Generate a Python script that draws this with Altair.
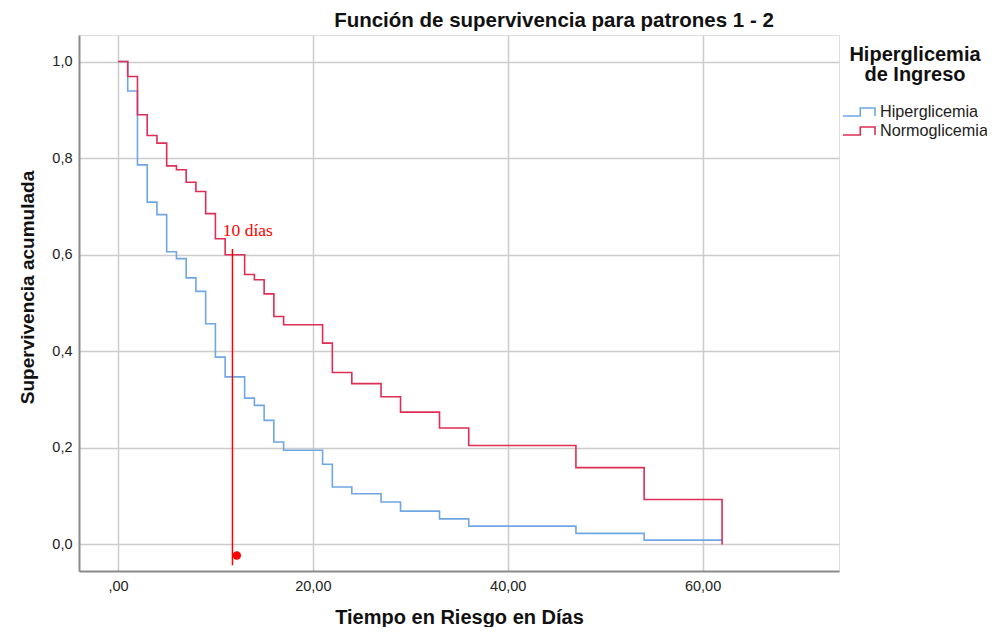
import altair as alt
import pandas as pd

# ---- data ----
dias = [0, 1, 2, 3, 4, 5, 6, 7, 8, 9, 10, 11, 13, 14, 15, 16, 17, 21, 22, 24, 27, 29, 33, 36, 47, 54, 62]
hiperglicemia = [1.0, 0.939, 0.786, 0.709, 0.683, 0.606, 0.592, 0.552, 0.524, 0.457, 0.388, 0.347,
                 0.303, 0.288, 0.257, 0.212, 0.195, 0.166, 0.119, 0.105, 0.088, 0.069, 0.053, 0.038,
                 0.023, 0.009, 0.009]
normoglicemia = [1.0, 0.969, 0.890, 0.847, 0.831, 0.784, 0.776, 0.750, 0.731, 0.685, 0.633, 0.600,
                 0.559, 0.548, 0.519, 0.472, 0.455, 0.417, 0.356, 0.333, 0.306, 0.274, 0.241, 0.205,
                 0.159, 0.093, 0.0]
grupos = ["Hiperglicemia", "Normoglicemia"]
colores = ["#6fa6e4", "#dd2e55"]

# annotation ("10 días")
marca_x = [11.75]
marca_y_sup = [0.612]
marca_y_inf = [-0.043]
punto_x = [12.2]
punto_y = [-0.023]
texto_x = [10.76]
texto_y = [0.638]
texto = ["10 días"]

x_ticks = [0, 20, 40, 60]
y_ticks = [0.0, 0.2, 0.4, 0.6, 0.8, 1.0]

rows = []
for g, serie in zip(grupos, [hiperglicemia, normoglicemia]):
    for i, (t, s) in enumerate(zip(dias, serie)):
        rows.append({"grupo": g, "t": t, "s": s, "orden": i})
df = pd.DataFrame(rows)

FONT = "Liberation Sans"
xscale = alt.Scale(domain=[-4, 74], nice=False, zero=False)
yscale = alt.Scale(domain=[-0.055, 1.055], nice=False, zero=False)

# step-shaped legend glyph (unit r = sqrt(size)/2)
step_path = "M-1,0.5H1.16V-0.5H3V0.5"

lines = alt.Chart(df).mark_line(interpolate="step-after", strokeWidth=1.6).encode(
    x=alt.X("t:Q", scale=xscale,
            axis=alt.Axis(values=x_ticks, title="Tiempo en Riesgo en Días",
                          labelExpr="datum.value == 0 ? ',00' : replace(format(datum.value, '.2f'), '.', ',')",
                          ticks=False, tickSize=0, labelPadding=8, labelFontSize=14.5,
                          labelColor="#222222", labelFont=FONT,
                          titleFont=FONT, titleFontSize=20, titleFontWeight="bold", titleColor="#111111",
                          titleY=52, titleBaseline="alphabetic",
                          grid=True, gridColor="#cccccc", gridWidth=1.5,
                          domainColor="#8a8a8a", domainWidth=2)),
    y=alt.Y("s:Q", scale=yscale,
            axis=alt.Axis(values=y_ticks, title="Supervivencia acumulada",
                          labelExpr="replace(format(datum.value, '.1f'), '.', ',')",
                          ticks=False, tickSize=0, labelPadding=7, labelFontSize=14.5,
                          labelColor="#222222", labelFont=FONT,
                          titleFont=FONT, titleFontSize=19, titleFontWeight="bold", titleColor="#111111",
                          titleX=-46, titleY=252, titleBaseline="alphabetic",
                          grid=True, gridColor="#cccccc", gridWidth=1.5,
                          domainColor="#8a8a8a", domainWidth=2)),
    color=alt.Color("grupo:N", scale=alt.Scale(domain=grupos, range=colores),
                    legend=alt.Legend(title=["Hiperglicemia", "de Ingreso"], orient="none",
                                      legendX=763, legendY=10, padding=0,
                                      titleFont=FONT, titleFontSize=20, titleFontWeight="bold",
                                      titleColor="#111111", titleAnchor="middle", titleAlign="center",
                                      titleLineHeight=20, titlePadding=18,
                                      labelFont=FONT, labelFontSize=16.2, labelColor="#222222",
                                      labelOffset=20, rowPadding=1,
                                      symbolType=step_path, symbolSize=256,
                                      symbolStrokeWidth=1.6, symbolFillColor="transparent")),
    order="orden:Q",
)

ann = pd.DataFrame({"x": marca_x, "y1": marca_y_sup, "y2": marca_y_inf})
regla = alt.Chart(ann).mark_rule(color="#ff0000", strokeWidth=1.5).encode(
    x=alt.X("x:Q", scale=xscale), y=alt.Y("y1:Q", scale=yscale), y2="y2:Q")

pt = pd.DataFrame({"x": punto_x, "y": punto_y})
punto = alt.Chart(pt).mark_point(filled=True, color="#ff0000", size=70, opacity=1).encode(
    x=alt.X("x:Q", scale=xscale), y=alt.Y("y:Q", scale=yscale))

tx = pd.DataFrame({"x": texto_x, "y": texto_y, "t": texto})
etiqueta = alt.Chart(tx).mark_text(font="Liberation Serif", fontSize=17.5, color="#ff0000",
                                   align="left", baseline="alphabetic").encode(
    x=alt.X("x:Q", scale=xscale), y=alt.Y("y:Q", scale=yscale), text="t:N")

chart = alt.layer(lines, regla, punto, etiqueta).properties(
    width=760, height=536,
    title=alt.TitleParams("Función de supervivencia para patrones 1 - 2", font=FONT, fontSize=20.5,
                          fontWeight="bold", color="#111111", anchor="middle", frame="group",
                          dx=95, dy=22, offset=10, baseline="alphabetic"),
    autosize=alt.AutoSizeParams(type="none"),
    padding={"left": 71, "top": 27, "right": 148, "bottom": 56},
).configure_view(stroke=None).configure(background="white")

chart.save("out.html", embed_options={"renderer": "svg", "actions": False})
